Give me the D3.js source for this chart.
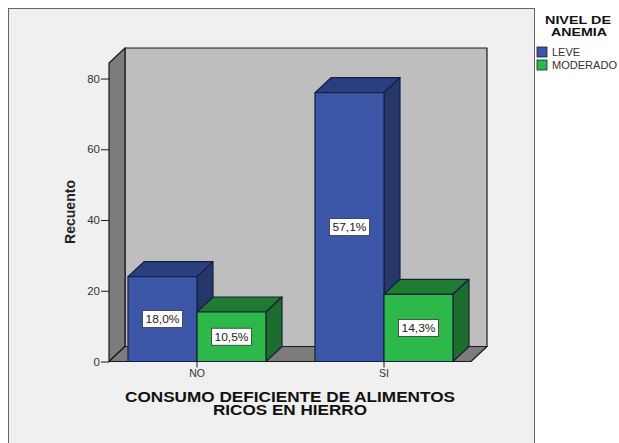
<!DOCTYPE html>
<html>
<head>
<meta charset="utf-8">
<script src="https://cdn.jsdelivr.net/npm/d3@7"></script>
<style>
  html, body { margin: 0; padding: 0; background: #fff; }
  svg { display: block; }
  text { font-family: "Liberation Sans", Arial, sans-serif; }
</style>
</head>
<body>
<div id="chart"></div>
<script>
const categories = ["NO", "SI"];
const seriesNames = ["LEVE", "MODERADO"];
const leve = [24, 76];
const moderado = [14, 19];
const leveLabels = ["18,0%", "57,1%"];
const moderadoLabels = ["10,5%", "14,3%"];
const yTicks = [0, 20, 40, 60, 80];

const front = { "LEVE": "#3d57a8", "MODERADO": "#2db84a" };
const topFace = { "LEVE": "#2a3f7e", "MODERADO": "#1f7a32" };
const sideFace = { "LEVE": "#253869", "MODERADO": "#1c6e2d" };
const outline = "#14203f";

const width = 619, height = 443;
const depthX = 16, depthY = -15;

const svg = d3.select("#chart").append("svg")
    .attr("width", width)
    .attr("height", height);

// cadre du graphique
svg.append("rect")
    .attr("x", 8.5).attr("y", 8.5)
    .attr("width", 526).attr("height", 440)
    .attr("fill", "#f0f0f0")
    .attr("stroke", "#666");

// échelles
const y = d3.scaleLinear().domain([0, 84.4]).range([361.5, 63]);
const x0 = d3.scaleBand().domain(categories).range([103.5, 477.5]);
const x1 = d3.scaleBand().domain(seriesNames).range([-69, 69]);

const left = 109, right = 471;
const yBase = y(0), yTop = y(84.4);

const poly = (pts, fill, stroke) => svg.append("polygon")
    .attr("points", pts.map(p => p.join(",")).join(" "))
    .attr("fill", fill)
    .attr("stroke", stroke || "#1a1a1a")
    .attr("stroke-width", 1.2)
    .attr("stroke-linejoin", "round");

// texte étiré comme dans l'original (police plus large)
const stretch = (sel, len) => sel
    .attr("textLength", len)
    .attr("lengthAdjust", "spacingAndGlyphs");

// murs 3D
poly([[left + depthX, yTop + depthY], [right + depthX, yTop + depthY], [right + depthX, yBase + depthY], [left + depthX, yBase + depthY]], "#bebebe");
poly([[left, yTop], [left + depthX, yTop + depthY], [left + depthX, yBase + depthY], [left, yBase]], "#7c7c7c");
poly([[left, yBase], [left + depthX, yBase + depthY], [right + depthX, yBase + depthY], [right, yBase]], "#7c7c7c");

// axe Y
const yAxis = svg.append("g")
    .attr("transform", `translate(${left},0)`)
    .call(d3.axisLeft(y).tickValues(yTicks).tickSize(8).tickPadding(1).tickSizeOuter(0).tickFormat(d3.format("d")));
yAxis.select(".domain").remove();
yAxis.selectAll("line").attr("stroke", "#1a1a1a");
yAxis.selectAll("text").attr("font-size", 11.5).attr("fill", "#333");

// barres
const bars = [];
categories.forEach((c, i) => {
  bars.push({ cat: c, s: "LEVE", v: leve[i], label: leveLabels[i] });
  bars.push({ cat: c, s: "MODERADO", v: moderado[i], label: moderadoLabels[i] });
});

bars.forEach(d => {
  const cx = x0(d.cat) + x0.bandwidth() / 2;
  const xa = cx + x1(d.s), xb = xa + x1.bandwidth();
  const yt = y(d.v);
  poly([[xa, yt], [xa + depthX, yt + depthY], [xb + depthX, yt + depthY], [xb, yt]], topFace[d.s], outline);
  poly([[xb, yt], [xb + depthX, yt + depthY], [xb + depthX, yBase + depthY], [xb, yBase]], sideFace[d.s], outline);
  poly([[xa, yt], [xb, yt], [xb, yBase], [xa, yBase]], front[d.s], outline);

  const g = svg.append("g")
      .attr("transform", `translate(${(xa + xb) / 2},${(yt + yBase) / 2})`);
  g.append("rect")
      .attr("x", -20).attr("y", -8.5)
      .attr("width", 40).attr("height", 17)
      .attr("fill", "#fff")
      .attr("stroke", "#333")
      .attr("stroke-width", 0.8);
  g.append("text")
      .attr("text-anchor", "middle")
      .attr("dy", "0.36em")
      .attr("font-size", 11)
      .attr("fill", "#222")
      .call(stretch, 34)
      .text(d.label);
});

// axe X : petits traits + libellés
const xAxis = svg.append("g")
    .attr("transform", `translate(0,${yBase})`)
    .call(d3.axisBottom(x0).tickSize(6).tickPadding(1).tickSizeOuter(0));
xAxis.select(".domain").remove();
xAxis.selectAll("line").attr("stroke", "#1a1a1a");
xAxis.selectAll("text").attr("font-size", 10.5).attr("fill", "#333").attr("dy", "0.8em");

// titres des axes
svg.append("text")
    .attr("transform", "translate(75,212) rotate(-90)")
    .attr("text-anchor", "middle")
    .attr("font-size", 15)
    .attr("font-weight", "bold")
    .attr("fill", "#222")
    .call(stretch, 64)
    .text("Recuento");

const xTitle = svg.append("text")
    .attr("text-anchor", "middle")
    .attr("font-size", 14)
    .attr("font-weight", "bold")
    .attr("fill", "#111");
xTitle.append("tspan").attr("x", 290).attr("y", 402).call(stretch, 330).text("CONSUMO DEFICIENTE DE ALIMENTOS");
xTitle.append("tspan").attr("x", 290).attr("y", 415).call(stretch, 154).text("RICOS EN HIERRO");

// légende
const legendTitle = svg.append("text")
    .attr("text-anchor", "middle")
    .attr("font-size", 11)
    .attr("font-weight", "bold")
    .attr("fill", "#111");
legendTitle.append("tspan").attr("x", 578).attr("y", 24).call(stretch, 66).text("NIVEL DE");
legendTitle.append("tspan").attr("x", 579).attr("y", 36).call(stretch, 56).text("ANEMIA");

const legendWidths = [28, 65];
const legend = svg.selectAll("g.legend")
    .data(seriesNames)
    .enter().append("g")
    .attr("class", "legend")
    .attr("transform", (d, i) => `translate(537,${47 + i * 13})`);
legend.append("rect")
    .attr("width", 10).attr("height", 10)
    .attr("fill", d => front[d])
    .attr("stroke", outline)
    .attr("stroke-width", 0.8);
legend.append("text")
    .attr("x", 15).attr("y", 9)
    .attr("font-size", 10.5)
    .attr("fill", "#333")
    .each(function(d, i) { d3.select(this).call(stretch, legendWidths[i]); })
    .text(d => d);
</script>
</body>
</html>
